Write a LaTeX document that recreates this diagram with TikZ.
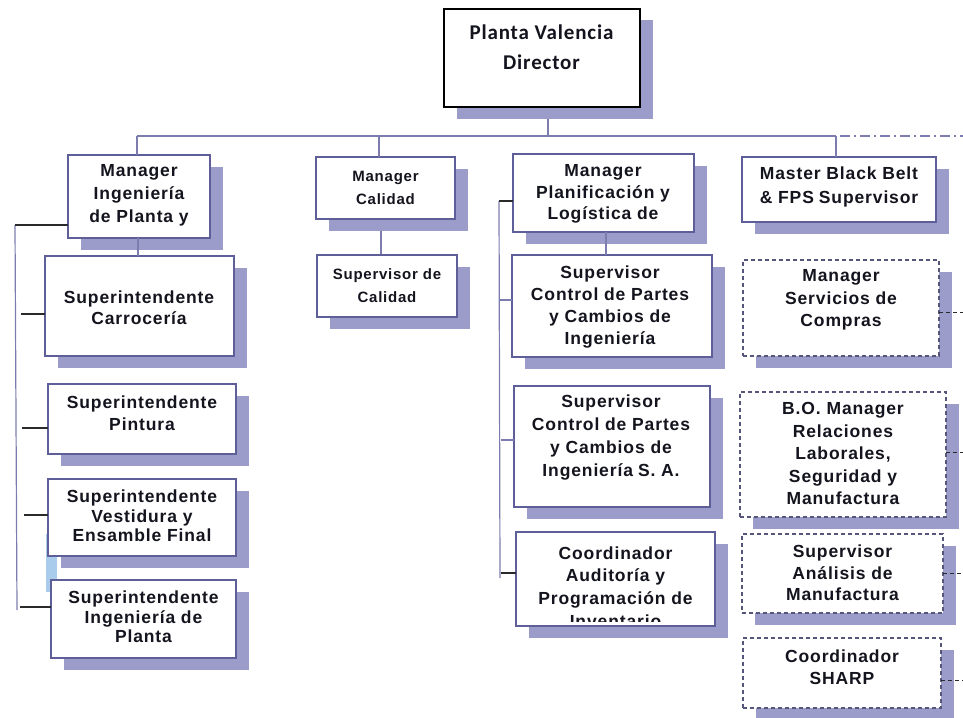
\documentclass[tikz,border=0pt]{standalone}
\usepackage{fontspec}
\setmainfont{Liberation Sans}[LetterSpace=5]
\newfontfamily\dirfont{Carlito}[LetterSpace=4]
\usetikzlibrary{shadows,backgrounds}
\definecolor{boxc}{HTML}{5E5E98}
\definecolor{dboxc}{HTML}{56567A}
\definecolor{shadc}{HTML}{9C9CCB}
\definecolor{linec}{HTML}{7C7CAE}
\definecolor{tickc}{HTML}{2A2A2A}
\definecolor{textc}{HTML}{14141E}
\definecolor{markc}{HTML}{A9CBEC}
\tikzset{
  box/.style={draw=boxc, line width=1.1pt, fill=white, inner sep=0pt, outer sep=0pt,
    general shadow={fill=shadc, shadow xshift=13pt, shadow yshift=-11.5pt}},
  dbox/.style={box, draw=dboxc, dash pattern=on 4pt off 3pt},
  txt/.style={font=\fontsize{17.5}{#1}\selectfont\bfseries, align=center, text=textc, inner sep=0pt},
  stxt/.style={font=\fontsize{15}{#1}\selectfont\bfseries, align=center, text=textc, inner sep=0pt},
  dtxt/.style={font=\dirfont\fontsize{21}{#1}\selectfont\bfseries, align=center, text=textc, inner sep=0pt},
  conn/.style={draw=linec, line width=1.2pt},
  tick/.style={draw=tickc, line width=1.1pt},
  dtick/.style={draw=tickc, line width=1pt, dash pattern=on 4pt off 3pt},
}
\begin{document}
\begin{tikzpicture}[x=1pt,y=-1pt]
\useasboundingbox (0,0) rectangle (963,717);

% ---- boxes ----
\node[box, draw=black, minimum width=196pt, minimum height=98pt] (dir) at (542,58) {};

\node[box, minimum width=142pt, minimum height=83pt]  (mIng) at (139,196.5) {};
\node[box, minimum width=189pt, minimum height=100pt] (sCar) at (139.5,306) {};
\node[box, minimum width=188pt, minimum height=70pt]  (sPin) at (142,419) {};
\node[box, minimum width=188pt, minimum height=77pt]  (sVes) at (142,517.5) {};
\node[box, minimum width=185pt, minimum height=78pt]  (sIng) at (143.5,619) {};

\node[box, minimum width=139pt, minimum height=62pt]  (mCal) at (385.5,188) {};
\node[box, minimum width=140pt, minimum height=62pt]  (sCal) at (387,286) {};

\node[box, minimum width=181pt, minimum height=78pt]  (mPla) at (603.5,193) {};
\node[box, minimum width=200pt, minimum height=102pt] (sCtl) at (612,306) {};
\node[box, minimum width=196pt, minimum height=121pt] (sCSA) at (612,446.5) {};
\node[box, minimum width=199pt, minimum height=94pt]  (cAud) at (615.5,579) {};

\node[box,  minimum width=194pt, minimum height=65pt]  (mBB)  at (839,189.5) {};
\node[dbox, minimum width=196pt, minimum height=96pt]  (mCom) at (841,308) {};
\node[dbox, minimum width=206pt, minimum height=125pt] (bOM)  at (843,454.5) {};
\node[dbox, minimum width=201pt, minimum height=79pt]  (sAna) at (842.5,573.5) {};
\node[dbox, minimum width=198pt, minimum height=70pt]  (cSh)  at (842,673) {};

% ---- texts ----
\node[dtxt=30] (dirT) at (541.5,47) {Planta Valencia\\Director};

\node[txt=23] (mIngT) at (139,195) {Manager\\Ingeniería\\de Planta y};
\node[txt=21] (sCarT) at (139,307.5) {Superintendente\\Carrocería};
\node[txt=22] (sPinT) at (142,413) {Superintendente\\Pintura};
\node[txt=19.5] (sVesT) at (142,516) {Superintendente\\Vestidura y\\Ensamble Final};
\node[txt=19.5] (sIngT) at (143.5,617) {Superintendente\\Ingeniería de\\Planta};

\node[stxt=23] (mCalT) at (385.5,187.5) {Manager\\Calidad};
\node[stxt=23] (sCalT) at (387,285.5) {Supervisor de\\Calidad};

\node[txt=21.5] (mPlaT) at (603,194) {Manager\\Planificación y\\Logística de};
\node[txt=22.3] (sCtlT) at (610,307) {Supervisor\\Control de Partes\\y Cambios de\\Ingeniería};
\node[txt=22.7] (sCSAT) at (611,437.5) {Supervisor\\Control de Partes\\y Cambios de\\Ingeniería\hspace{5pt}S. A.};
\begin{scope}
  \clip (517,533) rectangle (714.5,621);
  \node[txt=22.7] (cAudT) at (615.5,587) {Coordinador\\Auditoría y\\Programación de\\Inventario};
\end{scope}

\node[txt=24] (mBBT) at (839,186.5) {Master Black Belt\\\& FPS\hspace{5pt}Supervisor};
\node[txt=22.5] (mComT) at (841,300) {Manager\\Servicios de\\Compras};
\node[txt=22.5] (bOMT) at (843,453.5) {B.O. Manager\\Relaciones\\Laborales,\\Seguridad y\\Manufactura};
\node[txt=21.5] (sAnaT) at (842.5,573) {Supervisor\\Análisis de\\Manufactura};
\node[txt=22] (cShT) at (842,667) {Coordinador\\SHARP};

% ---- junction points ----
\coordinate (busL) at (137,136);
\coordinate (jCal) at (379,136);
\coordinate (busM) at (836,136);
\coordinate (busE) at (840,136);
\coordinate (busR) at (963,136);
\coordinate (lvT) at (15,225);
\coordinate (lvB) at (17,610);
\coordinate (t1) at (21,314);
\coordinate (t2) at (22,428);
\coordinate (t3) at (24,515);
\coordinate (t4) at (20,607);
\coordinate (pvT) at (499,201);
\coordinate (pvB) at (500,578);
\coordinate (p1) at (499,300);
\coordinate (p2) at (501,440);
\coordinate (p3) at (501,573);
\coordinate (r1) at (963,312);
\coordinate (r2) at (963,452);
\coordinate (r3) at (963,573);
\coordinate (r4) at (963,680);

% ---- connectors behind the boxes ----
\begin{scope}[on background layer]
  \fill[markc] (46,534) rectangle (57,592);
  \draw[conn] ([xshift=6pt]dir.south) -- ([xshift=6pt]dir.south |- busL);
  \draw[conn] ([xshift=-4.5pt]mCal.south) -- ([xshift=-4.5pt]mCal.south |- sCal.north);
\end{scope}

% ---- connectors ----
\draw[conn] (busL) -- (busM);
\draw[conn, dash pattern=on 10pt off 4pt on 2pt off 4pt] (busE) -- (busR);
\draw[conn] (busL) -- (busL |- mIng.north);
\draw[conn] (jCal) -- (jCal |- mCal.north);
\draw[conn] (busM) -- (busM |- mBB.north);
\draw[conn] ([xshift=-1pt]mIng.south) -- ([xshift=-1pt]mIng.south |- sCar.north);
\draw[conn] ([xshift=2.5pt]mPla.south) -- ([xshift=2.5pt]mPla.south |- sCtl.north);

\draw[conn] (lvT) -- (lvB);
\draw[tick] (lvT) -- (mIng.west |- lvT);
\draw[tick] (t1) -- (sCar.west |- t1);
\draw[tick] (t2) -- (sPin.west |- t2);
\draw[tick] (t3) -- (sVes.west |- t3);
\draw[tick] (t4) -- (sIng.west |- t4);

\draw[conn] (pvT) -- (pvB);
\draw[tick] (pvT) -- (mPla.west |- pvT);
\draw[conn] (p1) -- (sCtl.west |- p1);
\draw[conn] (p2) -- (sCSA.west |- p2);
\draw[tick] (p3) -- (cAud.west |- p3);

\draw[dtick] (mCom.east |- r1) -- (r1);
\draw[dtick] (bOM.east |- r2) -- (r2);
\draw[dtick] (sAna.east |- r3) -- (r3);
\draw[dtick] (cSh.east |- r4) -- (r4);
\end{tikzpicture}
\end{document}
